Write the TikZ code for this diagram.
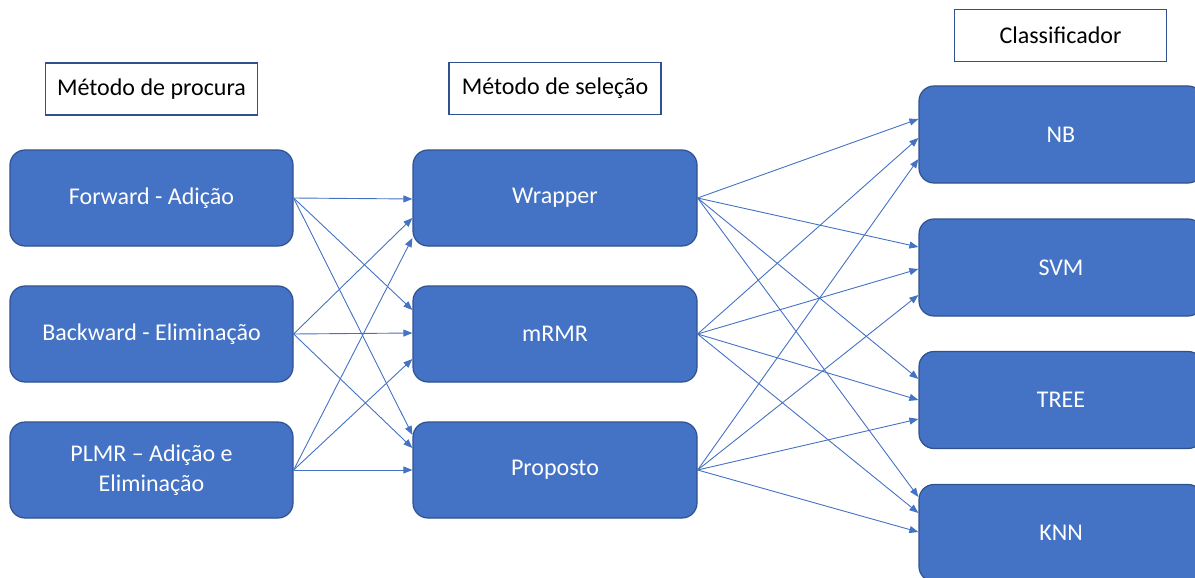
\documentclass[tikz,border=0pt]{standalone}
\usepackage{fontspec}
\setmainfont{Carlito}
\usetikzlibrary{arrows.meta}
\definecolor{boxblue}{HTML}{4472C4}
\definecolor{edgeblue}{HTML}{2F528F}
\begin{document}
\begin{tikzpicture}[x=1pt,y=-1pt,
    bluebox/.style={draw=edgeblue,line width=1.2pt,fill=boxblue,rounded corners=15pt,text=white,
      minimum width=284pt,minimum height=96pt,align=center,font=\fontsize{24}{30}\selectfont},
    headbox/.style={draw=edgeblue,line width=1.4pt,fill=white,minimum width=212pt,minimum height=52pt,
      font=\fontsize{24}{30}\selectfont},
    conn/.style={draw=boxblue,line width=0.9pt,-{Triangle[length=9pt,width=7pt]}}]
  \clip (0,0) rectangle (1195,578);
  \useasboundingbox (0,0) rectangle (1195,578);
  \node[headbox] (hprocura) at (151.5,89) {Método de procura};
  \node[headbox] (hselecao) at (555,88.5) {Método de seleção};
  \node[headbox] (hclass) at (1060.5,35.5) {Classificador};
  \node[bluebox,minimum width=283pt] (fwd) at (151.5,198) {Forward - Adição};
  \node[bluebox,minimum width=283pt] (bwd) at (151.5,334) {Backward - Eliminação};
  \node[bluebox,minimum width=283pt] (plmr) at (151.5,470) {PLMR – Adição e\\Eliminação};
  \node[bluebox] (wrap) at (555,198) {Wrapper};
  \node[bluebox] (mrmr) at (555,334) {mRMR};
  \node[bluebox] (prop) at (555,470) {Proposto};
  \node[bluebox,minimum height=97pt] (nb) at (1061,134.5) {NB};
  \node[bluebox,minimum height=97pt] (svm) at (1061,267.5) {SVM};
  \node[bluebox,minimum height=97pt] (tree) at (1061,400) {TREE};
  \node[bluebox,minimum height=97pt] (knn) at (1061,533) {KNN};
  \foreach \s/\t/\d in {fwd/wrap/-1,bwd/wrap/-20,plmr/wrap/-40,fwd/mrmr/24,bwd/mrmr/1,plmr/mrmr/-25,
      fwd/prop/35,bwd/prop/22,plmr/prop/0}
    \draw[conn] (\s.east) -- ([yshift=\d pt]\t.west);
  \foreach \s/\t/\d in {wrap/nb/15.5,mrmr/nb/-3.5,prop/nb/-24.5,wrap/svm/20.5,mrmr/svm/-1.5,prop/svm/-27.5,
      wrap/tree/21,mrmr/tree/0,prop/tree/-19,wrap/knn/36,mrmr/knn/20,prop/knn/1}
    \draw[conn] (\s.east) -- ([yshift=\d pt]\t.west);
\end{tikzpicture}
\end{document}
